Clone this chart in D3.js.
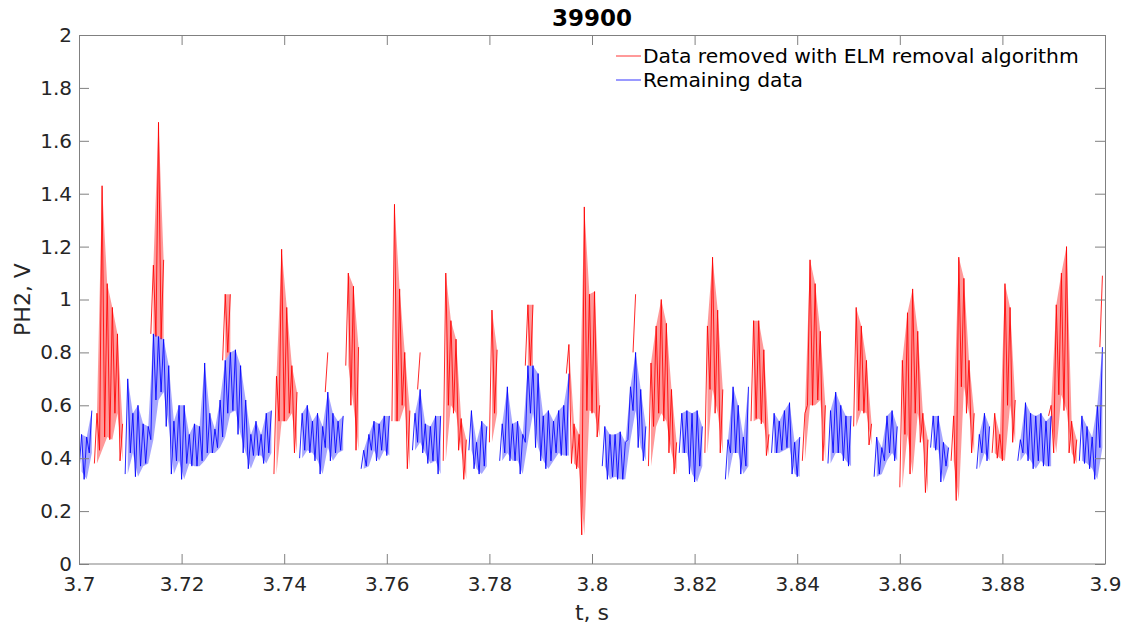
<!DOCTYPE html>
<html>
<head>
<meta charset="UTF-8">
<title>39900</title>
<script src="https://cdn.jsdelivr.net/npm/d3@7"></script>
<style>
  body { margin: 0; background: #fff; font-family: 'DejaVu Sans', sans-serif; }
  svg { display: block; }
  .tick text { font-size: 20px; fill: #262626; }
</style>
</head>
<body>
<div id="chart"></div>
<script>
// signal read in 1 ms bins starting at t0: min / max of each bin,
// and the level above which the bin was removed (null = kept, 0 = fully removed)
const t0 = 3.7;
const dt = 0.001;

const binLow = [
  0.35, 0.32, 0.42, 0.38, 0.43, 0.48, 0.47, 0.57, 0.39, 0.34,
  0.42, 0.33, 0.37, 0.38, 0.47, 0.62, 0.65, 0.52, 0.34, 0.39,
  0.32, 0.38, 0.37, 0.37, 0.39, 0.42, 0.42, 0.44, 0.48, 0.57,
  0.58, 0.49, 0.42, 0.36, 0.41, 0.41, 0.38, 0.42, 0.34, 0.54,
  0.54, 0.57, 0.42, 0.40, 0.43, 0.42, 0.39, 0.34, 0.44, 0.39,
  0.42, 0.43, 0.75, 0.60, 0.43, 0.36, 0.37, 0.43, 0.39, 0.43,
  0.41, 0.54, 0.54, 0.60, 0.36, 0.43, 0.46, 0.42, 0.38, 0.39,
  0.34, 0.39, 0.60, 0.57, 0.43, 0.32, 0.43, 0.36, 0.34, 0.37,
  0.46, 0.57, 0.39, 0.42, 0.39, 0.39, 0.34, 0.46, 0.57, 0.44,
  0.39, 0.36, 0.39, 0.42, 0.41, 0.41, 0.38, 0.36, 0.11, 0.58,
  0.57, 0.48, 0.37, 0.32, 0.33, 0.32, 0.32, 0.47, 0.58, 0.44,
  0.39, 0.37, 0.52, 0.57, 0.54, 0.42, 0.34, 0.42, 0.42, 0.34,
  0.31, 0.37, 0.42, 0.66, 0.57, 0.42, 0.32, 0.42, 0.42, 0.34,
  0.37, 0.54, 0.55, 0.53, 0.41, 0.42, 0.42, 0.43, 0.44, 0.34,
  0.33, 0.39, 0.60, 0.60, 0.62, 0.39, 0.38, 0.42, 0.42, 0.39,
  0.37, 0.52, 0.58, 0.57, 0.45, 0.33, 0.34, 0.39, 0.42, 0.39,
  0.29, 0.49, 0.34, 0.57, 0.46, 0.27, 0.44, 0.43, 0.31, 0.37,
  0.39, 0.24, 0.67, 0.57, 0.42, 0.36, 0.42, 0.39, 0.42, 0.40,
  0.39, 0.60, 0.46, 0.39, 0.42, 0.39, 0.36, 0.39, 0.37, 0.37,
  0.42, 0.64, 0.58, 0.42, 0.38, 0.39, 0.38, 0.36, 0.32, 0.44
];

const binHigh = [
  0.49, 0.48, 0.58, 0.57, 1.43, 1.06, 0.97, 0.87, 0.53, 0.70,
  0.57, 0.60, 0.53, 0.52, 1.13, 1.67, 1.15, 0.75, 0.54, 0.60,
  0.60, 0.49, 0.53, 0.52, 0.76, 0.57, 0.51, 0.62, 1.02, 1.02,
  0.81, 0.75, 0.62, 0.49, 0.54, 0.49, 0.57, 0.58, 0.71, 1.19,
  0.97, 0.75, 0.65, 0.57, 0.60, 0.54, 0.57, 0.52, 0.80, 0.57,
  0.54, 0.56, 1.10, 1.05, 0.82, 0.43, 0.49, 0.54, 0.53, 0.56,
  0.56, 1.36, 1.04, 0.80, 0.58, 0.57, 0.80, 0.53, 0.52, 0.56,
  0.56, 1.10, 0.92, 0.85, 0.55, 0.47, 0.58, 0.46, 0.54, 0.52,
  0.96, 0.81, 0.53, 0.67, 0.53, 0.54, 0.49, 0.98, 0.98, 0.72,
  0.56, 0.58, 0.54, 0.58, 0.60, 0.83, 0.53, 0.49, 1.35, 1.02,
  1.03, 0.60, 0.52, 0.49, 0.49, 0.50, 0.46, 0.67, 1.02, 0.66,
  0.52, 0.76, 0.90, 1.00, 0.91, 0.66, 0.46, 0.57, 0.58, 0.57,
  0.58, 0.52, 0.90, 1.16, 0.96, 0.66, 0.47, 0.67, 0.60, 0.48,
  0.67, 0.92, 0.92, 0.81, 0.49, 0.57, 0.54, 0.58, 0.61, 0.46,
  0.48, 0.57, 1.15, 1.06, 0.88, 0.60, 0.58, 0.65, 0.60, 0.56,
  0.56, 0.97, 0.90, 0.77, 0.53, 0.48, 0.44, 0.56, 0.58, 0.52,
  0.77, 0.95, 1.04, 0.88, 0.57, 0.47, 0.56, 0.56, 0.46, 0.44,
  0.56, 1.16, 1.08, 0.77, 0.57, 0.49, 0.57, 0.52, 0.57, 0.49,
  1.06, 0.97, 0.62, 0.47, 0.61, 0.57, 0.56, 0.57, 0.54, 0.60,
  0.98, 1.10, 1.20, 0.54, 0.47, 0.56, 0.52, 0.48, 0.60, 1.09
];

const removedAbove = [
  null, null, null, 0, 0, 0, 0, 0, 0, null,
  null, null, null, null, 0.87, 0.86, 0.85, null, null, null,
  null, null, null, null, null, null, null, null, 0.77, 0.80,
  null, null, null, null, null, null, null, null, 0, 0,
  0, 0, 0, null, null, null, null, null, 0.65, null,
  null, null, 0, 0, 0, null, null, null, null, null,
  null, 0, 0, 0, 0, null, 0.66, null, null, null,
  null, 0, 0, 0, 0, 0, null, null, null, null,
  0, 0, null, null, null, null, null, 0.75, 0.75, null,
  null, null, null, null, null, 0.72, 0, 0, 0, 0,
  0, 0, null, null, null, null, null, null, 0.80, null,
  null, 0, 0, 0, 0, 0, 0, null, null, null,
  null, null, 0, 0, 0, 0, null, null, null, null,
  null, 0, 0, 0, 0, null, null, null, null, null,
  null, 0, 0, 0, 0, 0, null, null, null, null,
  null, 0, 0, 0, 0, null, null, null, null, null,
  0, 0, 0, 0, 0, 0, null, null, null, null,
  0, 0, 0, 0, 0, null, null, null, 0, 0,
  0, 0, 0, null, null, null, null, null, null, 0.56,
  0, 0, 0, 0, 0, null, null, null, null, 0.82
];

const yTicks = [0, 0.2, 0.4, 0.6, 0.8, 1, 1.2, 1.4, 1.6, 1.8, 2];
const xTicks = [3.7, 3.72, 3.74, 3.76, 3.78, 3.8, 3.82, 3.84, 3.86, 3.88, 3.9];

const width = 1127, height = 628;
const margin = { top: 35, right: 22, bottom: 64, left: 79 };
const innerW = width - margin.left - margin.right;
const innerH = height - margin.top - margin.bottom;

const svg = d3.select("#chart").append("svg")
  .attr("width", width)
  .attr("height", height);

const g = svg.append("g")
  .attr("transform", "translate(" + margin.left + "," + margin.top + ")");

const x = d3.scaleLinear().domain([3.7, 3.9]).range([0, innerW]);
const y = d3.scaleLinear().domain([0, 2]).range([innerH, 0]);

svg.append("defs").append("clipPath").attr("id", "clip")
  .append("rect").attr("width", innerW).attr("height", innerH);

// split every bin into its kept part and its removed part
const bins = binLow.map((lo, i) => {
  const hi = binHigh[i], cut = removedAbove[i];
  return {
    t: t0 + (i + 0.5) * dt,
    keptLo: cut === 0 ? null : lo,
    keptHi: cut === 0 ? null : (cut == null ? hi : Math.min(cut, hi)),
    remLo: cut == null ? null : (cut === 0 ? lo : cut),
    remHi: cut == null ? null : hi
  };
});

// zigzag min -> max inside every bin
function zigzag(loKey, hiKey) {
  const pts = [];
  bins.forEach(b => {
    pts.push({ t: b.t - dt / 2, v: b[loKey] });
    pts.push({ t: b.t, v: b[hiKey] });
  });
  return pts;
}

const line = d3.line()
  .defined(d => d.v != null)
  .x(d => x(d.t))
  .y(d => y(d.v));

// light band between min and max, gives the trace its density
function band(loKey, hiKey) {
  return d3.area()
    .defined(d => d[loKey] != null)
    .x(d => x(d.t))
    .y0(d => y(d[loKey]))
    .y1(d => y(d[hiKey]));
}

const plot = g.append("g").attr("clip-path", "url(#clip)");

plot.append("path").datum(bins)
  .attr("d", band("remLo", "remHi"))
  .attr("fill", "#ff0000").attr("fill-opacity", 0.4);
plot.append("path").datum(zigzag("remLo", "remHi"))
  .attr("d", line).attr("fill", "none")
  .attr("stroke", "#ff0000").attr("stroke-width", 0.85);

plot.append("path").datum(bins)
  .attr("d", band("keptLo", "keptHi"))
  .attr("fill", "#0000ff").attr("fill-opacity", 0.35);
plot.append("path").datum(zigzag("keptLo", "keptHi"))
  .attr("d", line).attr("fill", "none")
  .attr("stroke", "#0000ff").attr("stroke-width", 0.85);

// axes, matlab style: ticks inside, box all round
const fmt = d => String(+d.toFixed(2));
const axisColor = "#808080";

function styleAxis(sel) {
  sel.select(".domain").remove();
  sel.selectAll(".tick line").attr("stroke", axisColor);
  sel.selectAll(".tick text").style("font-family", "'DejaVu Sans', sans-serif");
}

g.append("g").attr("transform", "translate(0," + innerH + ")")
  .call(d3.axisBottom(x).tickValues(xTicks).tickFormat(fmt).tickSizeInner(-10).tickPadding(13))
  .call(styleAxis);
g.append("g")
  .call(d3.axisTop(x).tickValues(xTicks).tickFormat("").tickSizeInner(-10))
  .call(styleAxis);
g.append("g")
  .call(d3.axisLeft(y).tickValues(yTicks).tickFormat(fmt).tickSizeInner(-10).tickPadding(7))
  .call(styleAxis);
g.append("g").attr("transform", "translate(" + innerW + ",0)")
  .call(d3.axisRight(y).tickValues(yTicks).tickFormat("").tickSizeInner(-10))
  .call(styleAxis);

g.append("rect")
  .attr("x", 0.5).attr("y", 0.5)
  .attr("width", innerW).attr("height", innerH - 0.5)
  .attr("fill", "none").attr("stroke", axisColor);

// title and labels
svg.append("text")
  .attr("x", margin.left + innerW / 2).attr("y", 26)
  .attr("text-anchor", "middle")
  .style("font-size", "23px").style("font-weight", "bold").style("fill", "#000")
  .text("39900");

svg.append("text")
  .attr("x", margin.left + innerW / 2).attr("y", 620)
  .attr("text-anchor", "middle")
  .style("font-size", "22px").style("fill", "#262626")
  .text("t, s");

svg.append("text")
  .attr("transform", "translate(30," + (margin.top + innerH / 2) + ") rotate(-90)")
  .attr("text-anchor", "middle")
  .style("font-size", "22px").style("fill", "#262626")
  .text("PH2, V");

// legend
const legendItems = [
  { label: "Data removed with ELM removal algorithm", color: "#ff0000" },
  { label: "Remaining data", color: "#0000ff" }
];
const legend = svg.append("g").attr("transform", "translate(616,56)");
legendItems.forEach((d, i) => {
  const row = legend.append("g").attr("transform", "translate(0," + i * 24 + ")");
  row.append("line").attr("x1", 0).attr("x2", 25).attr("y1", 0).attr("y2", 0)
    .attr("stroke", d.color).attr("stroke-width", 0.8);
  row.append("text").attr("x", 27).attr("y", 7)
    .style("font-size", "20.3px").style("fill", "#000")
    .text(d.label);
});
</script>
</body>
</html>
